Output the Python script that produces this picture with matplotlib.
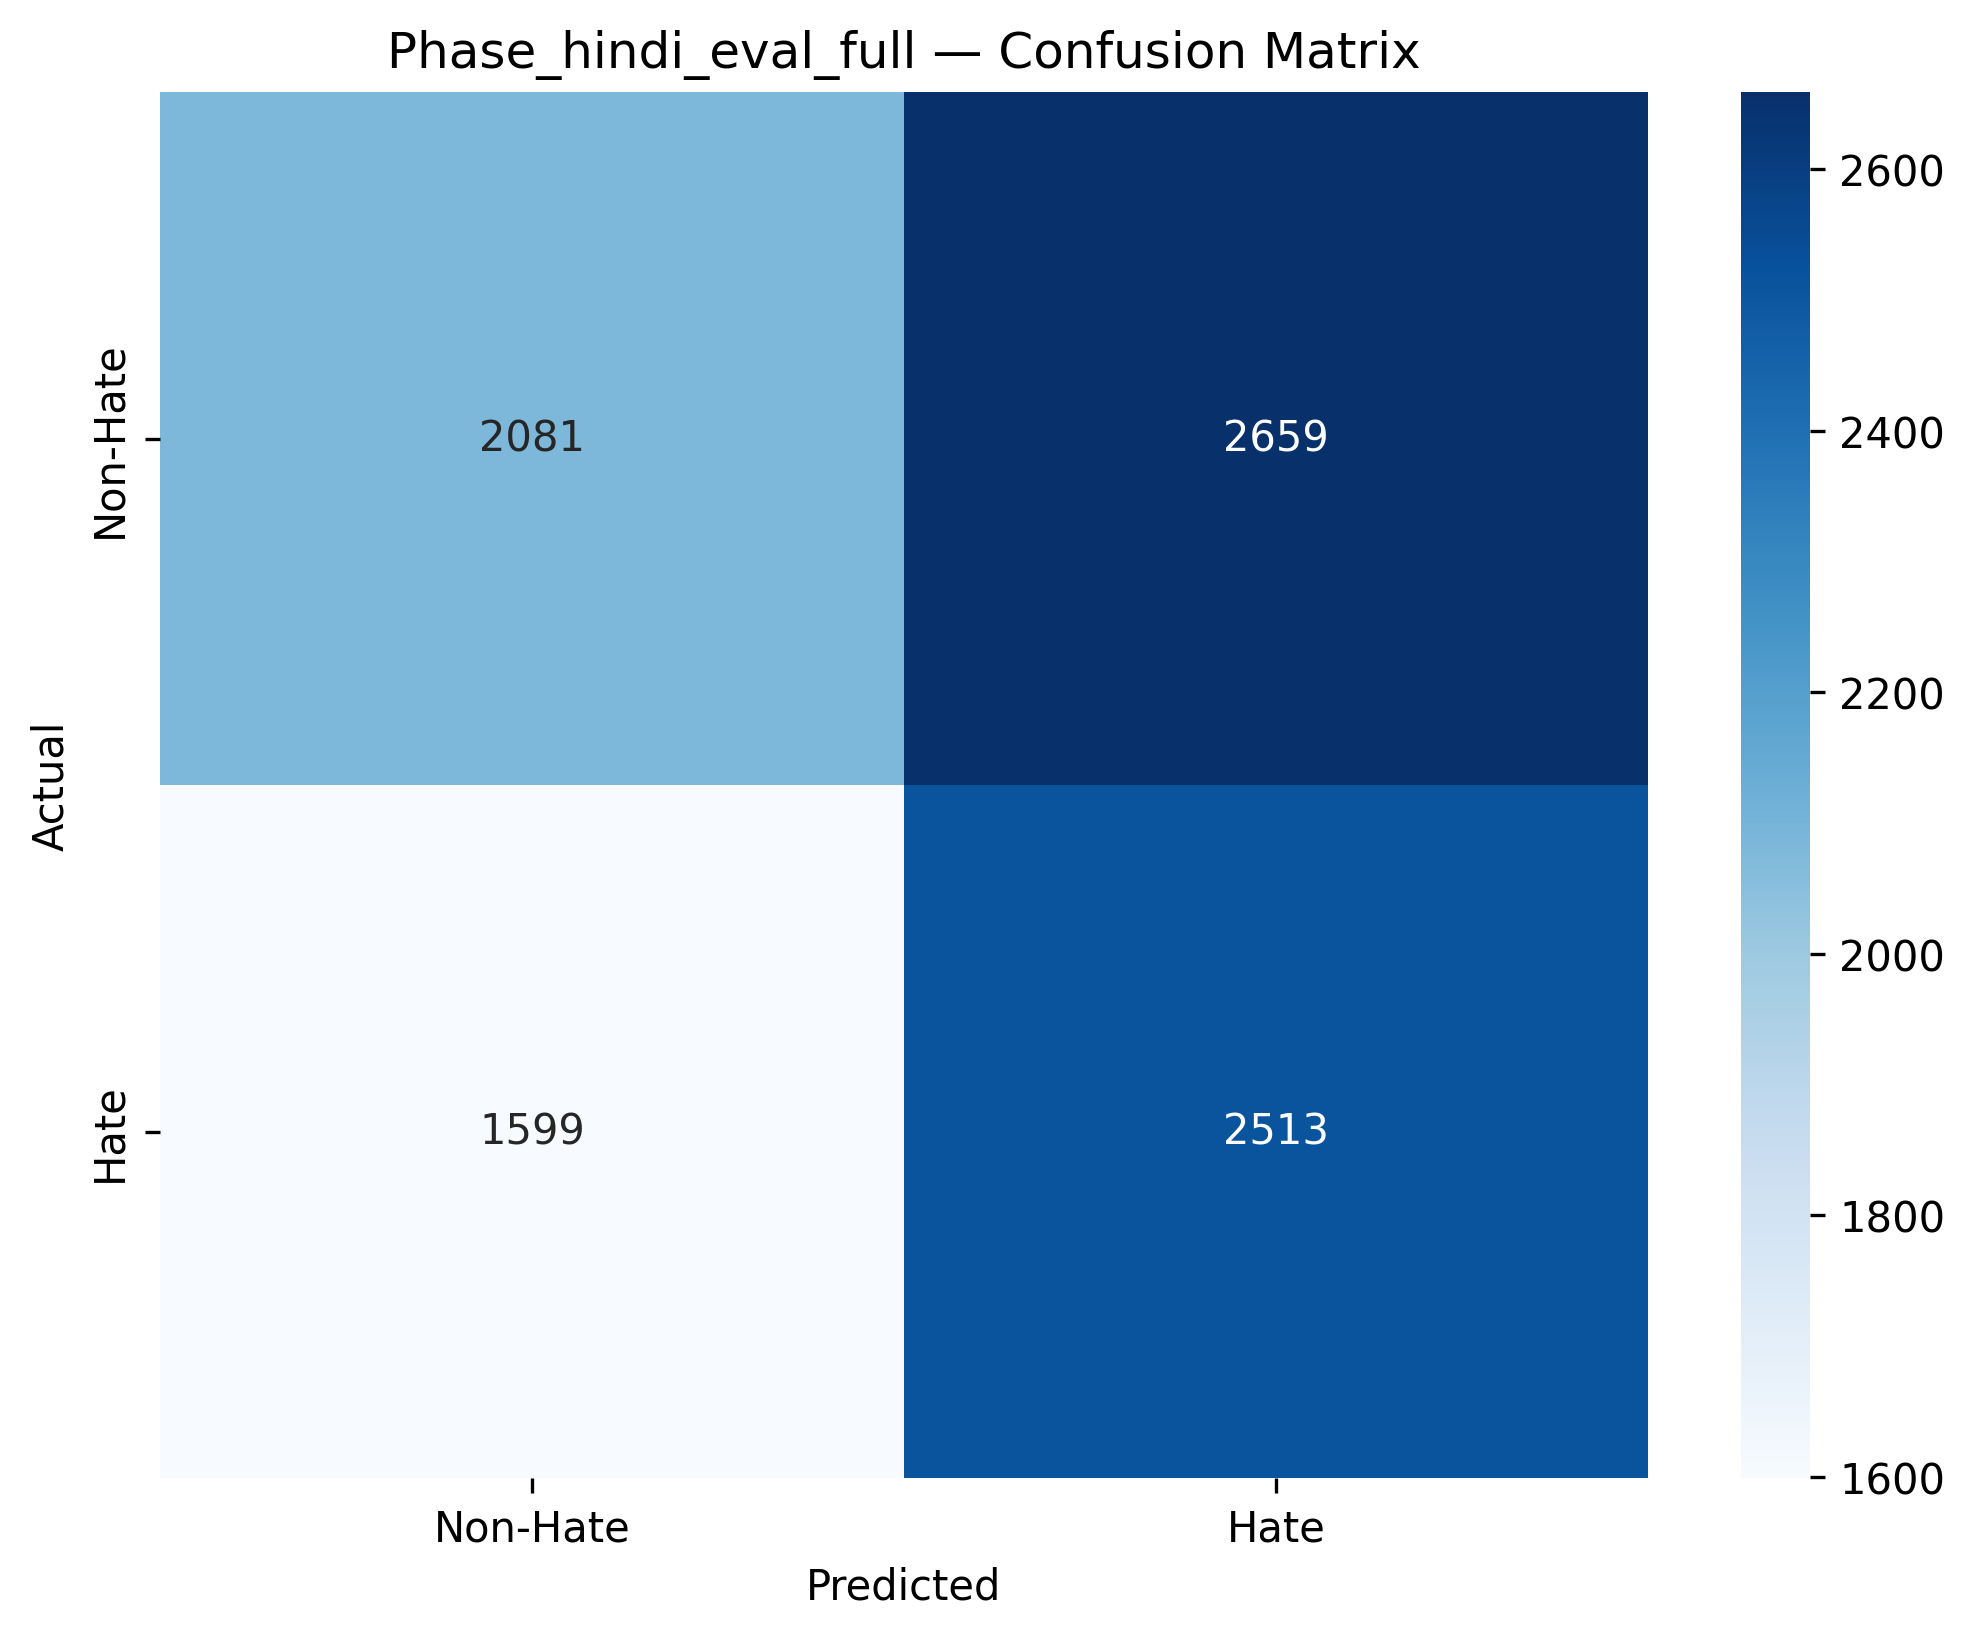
import numpy as np
import matplotlib
matplotlib.use("Agg")
import matplotlib.pyplot as plt
import seaborn as sns

# Datos de la matriz de confusión
etiquetas = ["Non-Hate", "Hate"]
matriz = np.array([[2081, 2659],
                   [1599, 2513]])

fig, ax = plt.subplots(figsize=(8, 6))
sns.heatmap(matriz, annot=True, fmt="d", cmap="Blues",
            xticklabels=etiquetas, yticklabels=etiquetas, ax=ax)
ax.set_xlabel("Predicted")
ax.set_ylabel("Actual")
ax.set_title("Phase_hindi_eval_full — Confusion Matrix")

plt.savefig("out.png", dpi=300, bbox_inches="tight")
